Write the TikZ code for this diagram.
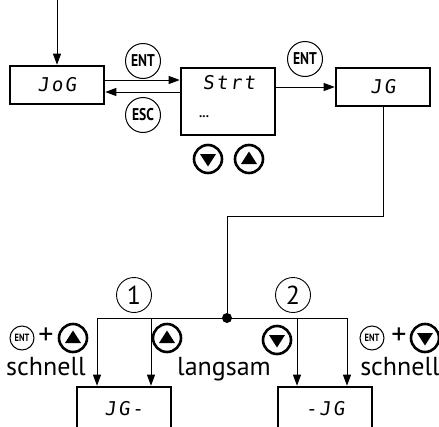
\documentclass[tikz,border=0pt]{standalone}
\usepackage{fontspec}
\setmainfont{PT Sans}
\newfontfamily\segfont{DejaVu Sans Mono}[FakeSlant=0.12, LetterSpace=12]
\newfontfamily\keyfont{PT Sans}[FakeStretch=0.8]
\usetikzlibrary{arrows.meta, positioning, calc}

\begin{document}
\begin{tikzpicture}[x=1pt, y=-1pt,
  arr/.style={line width=0.9pt, -{Triangle[length=11pt, width=8pt]}},
  dispbox/.style={draw, line width=2.6pt, minimum width=94pt, minimum height=38pt,
                  inner sep=0pt, font=\segfont\fontsize{19}{19}\selectfont},
  segtext/.style={inner sep=0pt, font=\segfont\fontsize{19}{19}\selectfont},
  keybtn/.style={draw, circle, line width=1pt, minimum size=35pt, inner sep=0pt,
                 font=\keyfont\bfseries\fontsize{17}{17}\selectfont},
  smallkey/.style={keybtn, minimum size=24pt, font=\keyfont\bfseries\fontsize{10.5}{10.5}\selectfont},
  arrbtn/.style={draw, circle, line width=2.6pt, minimum size=28pt, inner sep=0pt},
  upbtn/.style={arrbtn, path picture={\fill ([shift={(-8pt,-5pt)}]path picture bounding box.center)
                -- ++(16pt,0pt) -- ++(-8pt,12.5pt) -- cycle;}},
  downbtn/.style={arrbtn, path picture={\fill ([shift={(-8pt,5pt)}]path picture bounding box.center)
                -- ++(16pt,0pt) -- ++(-8pt,-12.5pt) -- cycle;}},
  numcirc/.style={draw, circle, line width=0.9pt, minimum size=35pt, inner sep=0pt,
                  font=\fontsize{26}{26}\selectfont},
  lbl/.style={font=\fontsize{26}{26}\selectfont, anchor=base, inner sep=0pt},
  plus/.style={font=\fontsize{30}{30}\selectfont, inner sep=0pt}]
  \clip (0,0) rectangle (439,426);

  % menu level
  \coordinate (top) at (57,0);
  \node[dispbox] (jog) at (57,85) {JoG};
  \node[dispbox, minimum height=67pt] (strt) at (228,101.5) {};
  \node[segtext] (strttxt) at (229,83) {Strt};
  \node[inner sep=0pt, font=\bfseries\fontsize{13}{13}\selectfont] (dots) at (204,117) {...};
  \node[dispbox] (jg) at (383,87) {JG};

  \node[keybtn] (ent1) at (143,61) {ENT};
  \node[keybtn] (esc) at (143,115) {ESC};
  \node[keybtn] (ent2) at (305,59) {ENT};
  \node[downbtn] (dn1) at (208,159) {};
  \node[upbtn] (up1) at (249,159) {};

  \draw[arr] (top) -- (jog.north);
  \draw[arr] ([yshift=5pt]jog.east) -- ([yshift=5pt]jog.east -| strt.west);
  \draw[arr] ([yshift=-7pt]jog.east -| strt.west) -- ([yshift=-7pt]jog.east);
  \draw[arr] (strt.east |- jg.west) -- (jg.west);

  % jog branch
  \node[circle, fill, inner sep=0pt, minimum size=10pt] (split) at (227,318) {};
  \draw[line width=0.9pt] (jg.south) -- ++(0,109) -| (split);

  \coordinate (b1) at (97,318);
  \coordinate (b2) at (151,318);
  \coordinate (b3) at (297,318);
  \coordinate (b4) at (347,318);
  \draw[line width=0.9pt] (b1) -- (b4);

  \node[dispbox, minimum height=44pt] (jgm) at (124,409) {JG-};
  \node[dispbox, minimum height=44pt] (mjg) at (325,409) {-JG};

  \foreach \c/\b in {b1/jgm, b2/jgm, b3/mjg, b4/mjg}
    \draw[arr] (\c) -- (\c |- \b.north);

  \node[numcirc] (num1) at (134,295) {1};
  \node[numcirc] (num2) at (293,295) {2};

  % key labels
  \node[smallkey] (entl) at (22,338) {ENT};
  \node[plus] (plusl) at (46,336) {+};
  \node[upbtn] (upl) at (73,338) {};
  \node[lbl] (fastl) at (46,375) {schnell};

  \node[upbtn] (upm) at (167,338) {};
  \node[lbl] (slow) at (224,375) {langsam};
  \node[downbtn] (dnm) at (277,340) {};

  \node[smallkey] (entr) at (372,338) {ENT};
  \node[plus] (plusr) at (399,336) {+};
  \node[downbtn] (dnr) at (425,338) {};
  \node[lbl] (fastr) at (400,375) {schnell};
\end{tikzpicture}
\end{document}
